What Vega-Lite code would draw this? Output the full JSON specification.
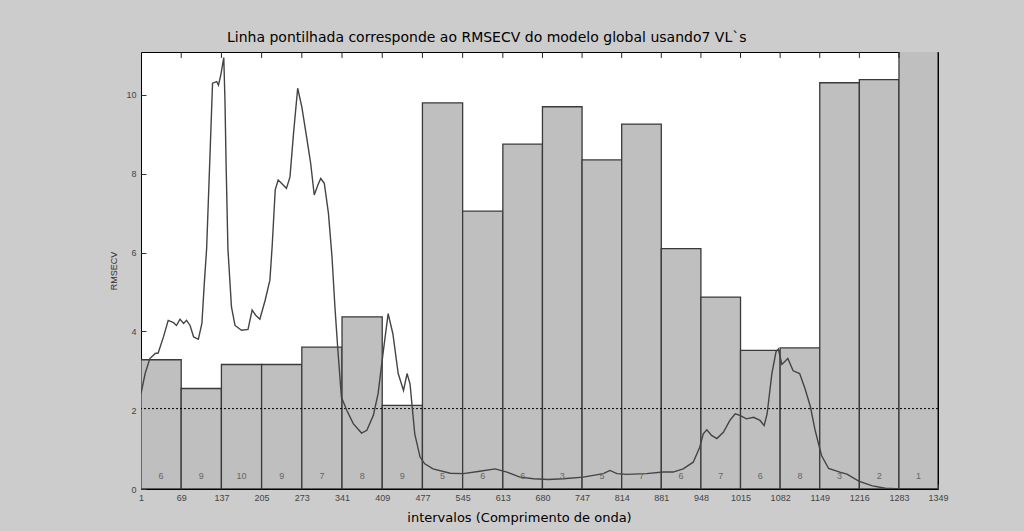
{
  "$schema": "https://vega.github.io/schema/vega-lite/v6.json",
  "width": 797,
  "height": 437,
  "autosize": "none",
  "padding": {"left": 141, "top": 52, "right": 86, "bottom": 42},
  "background": "#cccccc",
  "title": {
    "text": "Linha pontilhada  corresponde  ao RMSECV do  modelo  global usando7  VL`s",
    "anchor": "start",
    "frame": "group",
    "dx": 86,
    "offset": 7,
    "font": "DejaVu Sans",
    "fontSize": 14,
    "fontWeight": "normal",
    "color": "#000000"
  },
  "config": {
    "view": {"stroke": "#000000", "strokeWidth": 1, "fill": "#ffffff"},
    "axis": {
      "labelFont": "Liberation Sans",
      "labelFontSize": 9,
      "labelColor": "#444444",
      "tickColor": "#333333",
      "domain": false,
      "grid": false
    }
  },
  "resolve": {"axis": {"x": "independent"}},
  "datasets": {
    "bars": [
      {"start": 1, "end": 69, "rmsecv": 3.28, "n": "6"},
      {"start": 69, "end": 137, "rmsecv": 2.55, "n": "9"},
      {"start": 137, "end": 205, "rmsecv": 3.16, "n": "10"},
      {"start": 205, "end": 273, "rmsecv": 3.16, "n": "9"},
      {"start": 273, "end": 341, "rmsecv": 3.60, "n": "7"},
      {"start": 341, "end": 409, "rmsecv": 4.37, "n": "8"},
      {"start": 409, "end": 477, "rmsecv": 2.12, "n": "9"},
      {"start": 477, "end": 545, "rmsecv": 9.80, "n": "5"},
      {"start": 545, "end": 613, "rmsecv": 7.05, "n": "6"},
      {"start": 613, "end": 680, "rmsecv": 8.75, "n": "6"},
      {"start": 680, "end": 747, "rmsecv": 9.70, "n": "3"},
      {"start": 747, "end": 814, "rmsecv": 8.35, "n": "5"},
      {"start": 814, "end": 881, "rmsecv": 9.26, "n": "7"},
      {"start": 881, "end": 948, "rmsecv": 6.10, "n": "6"},
      {"start": 948, "end": 1015, "rmsecv": 4.87, "n": "7"},
      {"start": 1015, "end": 1082, "rmsecv": 3.52, "n": "6"},
      {"start": 1082, "end": 1149, "rmsecv": 3.58, "n": "8"},
      {"start": 1149, "end": 1216, "rmsecv": 10.31, "n": "3"},
      {"start": 1216, "end": 1283, "rmsecv": 10.39, "n": "2"},
      {"start": 1283, "end": 1349, "rmsecv": 11.3, "n": "1"}
    ],
    "reference": [{"global": 2.04}],
    "spectrum": [
      {"wl": 1, "v": 2.42}, {"wl": 8, "v": 2.93}, {"wl": 16, "v": 3.31}, {"wl": 25, "v": 3.44},
      {"wl": 30, "v": 3.45}, {"wl": 39, "v": 3.86}, {"wl": 47, "v": 4.28}, {"wl": 56, "v": 4.22},
      {"wl": 61, "v": 4.15}, {"wl": 67, "v": 4.31}, {"wl": 73, "v": 4.2}, {"wl": 78, "v": 4.28},
      {"wl": 84, "v": 4.15}, {"wl": 90, "v": 3.86}, {"wl": 98, "v": 3.8}, {"wl": 104, "v": 4.2},
      {"wl": 108, "v": 5.2}, {"wl": 112, "v": 6.1}, {"wl": 118, "v": 8.6}, {"wl": 122, "v": 10.3},
      {"wl": 129, "v": 10.34}, {"wl": 132, "v": 10.25}, {"wl": 136, "v": 10.51}, {"wl": 141, "v": 10.95},
      {"wl": 143, "v": 9.87}, {"wl": 145, "v": 8.2}, {"wl": 148, "v": 6.1}, {"wl": 154, "v": 4.62},
      {"wl": 160, "v": 4.15}, {"wl": 171, "v": 4.03}, {"wl": 182, "v": 4.05}, {"wl": 189, "v": 4.54},
      {"wl": 195, "v": 4.41}, {"wl": 202, "v": 4.31}, {"wl": 211, "v": 4.79}, {"wl": 219, "v": 5.3},
      {"wl": 223, "v": 6.2}, {"wl": 228, "v": 7.59}, {"wl": 233, "v": 7.84}, {"wl": 242, "v": 7.71},
      {"wl": 247, "v": 7.63}, {"wl": 253, "v": 7.92}, {"wl": 259, "v": 9.03}, {"wl": 266, "v": 10.17},
      {"wl": 273, "v": 9.7}, {"wl": 281, "v": 8.94}, {"wl": 288, "v": 8.26}, {"wl": 294, "v": 7.46},
      {"wl": 300, "v": 7.71}, {"wl": 305, "v": 7.88}, {"wl": 311, "v": 7.76}, {"wl": 318, "v": 7.0},
      {"wl": 324, "v": 5.9}, {"wl": 329, "v": 4.62}, {"wl": 334, "v": 3.52}, {"wl": 340, "v": 2.33},
      {"wl": 349, "v": 2.0}, {"wl": 360, "v": 1.66}, {"wl": 374, "v": 1.42}, {"wl": 383, "v": 1.49},
      {"wl": 394, "v": 1.87}, {"wl": 402, "v": 2.42}, {"wl": 411, "v": 3.52}, {"wl": 419, "v": 4.45},
      {"wl": 427, "v": 3.94}, {"wl": 436, "v": 2.93}, {"wl": 445, "v": 2.5}, {"wl": 451, "v": 2.93},
      {"wl": 456, "v": 2.67}, {"wl": 464, "v": 1.4}, {"wl": 473, "v": 0.81}, {"wl": 481, "v": 0.64},
      {"wl": 495, "v": 0.51}, {"wl": 524, "v": 0.4}, {"wl": 546, "v": 0.39}, {"wl": 574, "v": 0.45},
      {"wl": 600, "v": 0.51}, {"wl": 620, "v": 0.43}, {"wl": 642, "v": 0.3}, {"wl": 665, "v": 0.26},
      {"wl": 690, "v": 0.24}, {"wl": 715, "v": 0.26}, {"wl": 749, "v": 0.3}, {"wl": 783, "v": 0.39},
      {"wl": 794, "v": 0.47}, {"wl": 806, "v": 0.39}, {"wl": 822, "v": 0.37}, {"wl": 856, "v": 0.39},
      {"wl": 884, "v": 0.43}, {"wl": 901, "v": 0.43}, {"wl": 918, "v": 0.51}, {"wl": 935, "v": 0.68},
      {"wl": 946, "v": 1.06}, {"wl": 952, "v": 1.4}, {"wl": 958, "v": 1.5}, {"wl": 966, "v": 1.36},
      {"wl": 975, "v": 1.28}, {"wl": 986, "v": 1.44}, {"wl": 997, "v": 1.74}, {"wl": 1006, "v": 1.91},
      {"wl": 1014, "v": 1.87}, {"wl": 1025, "v": 1.78}, {"wl": 1037, "v": 1.82}, {"wl": 1048, "v": 1.74},
      {"wl": 1055, "v": 1.61}, {"wl": 1060, "v": 1.91}, {"wl": 1068, "v": 2.93}, {"wl": 1075, "v": 3.48},
      {"wl": 1079, "v": 3.55}, {"wl": 1085, "v": 3.16}, {"wl": 1095, "v": 3.31}, {"wl": 1104, "v": 3.0},
      {"wl": 1115, "v": 2.93}, {"wl": 1124, "v": 2.55}, {"wl": 1133, "v": 2.1}, {"wl": 1141, "v": 1.5},
      {"wl": 1152, "v": 0.85}, {"wl": 1164, "v": 0.52}, {"wl": 1183, "v": 0.43}, {"wl": 1195, "v": 0.38},
      {"wl": 1215, "v": 0.2}, {"wl": 1238, "v": 0.08}, {"wl": 1260, "v": 0.02}, {"wl": 1285, "v": 0.0},
      {"wl": 1349, "v": 0.0}
    ]
  },
  "layer": [
    {
      "data": {"name": "bars"},
      "mark": {"type": "rect", "fill": "#bfbfbf", "stroke": "#3a3a3a", "strokeWidth": 1.3, "clip": true},
      "encoding": {
        "x": {
          "field": "start", "type": "quantitative",
          "scale": {"domain": [1, 1349], "nice": false, "zero": false},
          "axis": {
            "orient": "bottom",
            "values": [1, 69, 137, 205, 273, 341, 409, 477, 545, 613, 680, 747, 814, 881, 948, 1015, 1082, 1149, 1216, 1283, 1349],
            "format": "d",
            "tickSize": -5,
            "labelPadding": 9,
            "labelFlush": false,
            "labelOverlap": false,
            "title": "intervalos (Comprimento de onda)",
            "titleFont": "DejaVu Sans",
            "titleFontSize": 13,
            "titleFontWeight": "normal",
            "titleColor": "#000000",
            "titleX": 378,
            "titleY": 32,
            "titleBaseline": "alphabetic",
            "titleAlign": "center"
          }
        },
        "x2": {"field": "end"},
        "y": {
          "field": "rmsecv", "type": "quantitative",
          "scale": {"domain": [0, 11.09], "nice": false},
          "axis": {
            "values": [0, 2, 4, 6, 8, 10],
            "tickSize": -5,
            "labelPadding": 10,
            "title": "RMSECV",
            "titleFont": "Liberation Sans",
            "titleFontSize": 9,
            "titleFontWeight": "normal",
            "titleColor": "#333333",
            "titleAngle": 270,
            "titleX": -28,
            "titleY": 218.5,
            "titleAlign": "center",
            "titleBaseline": "middle"
          }
        },
        "y2": {"datum": 0}
      }
    },
    {
      "data": {"name": "reference"},
      "mark": {"type": "rule", "color": "#000000", "strokeDash": [2, 2], "strokeWidth": 1},
      "encoding": {"y": {"field": "global", "type": "quantitative"}}
    },
    {
      "data": {"name": "spectrum"},
      "mark": {"type": "line", "color": "#444444", "strokeWidth": 1.4, "clip": true},
      "encoding": {
        "x": {"field": "wl", "type": "quantitative", "axis": null},
        "y": {"field": "v", "type": "quantitative"}
      }
    },
    {
      "data": {"name": "bars"},
      "transform": [{"filter": "datum.end < 1349"}],
      "mark": {"type": "rule", "color": "#222222", "strokeWidth": 1},
      "encoding": {
        "x": {"field": "end", "type": "quantitative", "axis": null},
        "y": {"datum": 11.09},
        "y2": {"datum": 10.94}
      }
    },
    {
      "data": {"name": "bars"},
      "transform": [{"calculate": "(datum.start + datum.end) / 2", "as": "mid"}],
      "mark": {"type": "text", "font": "Liberation Sans", "fontSize": 9, "color": "#666666", "baseline": "middle"},
      "encoding": {
        "x": {"field": "mid", "type": "quantitative", "axis": null},
        "y": {"datum": 0.32},
        "text": {"field": "n"}
      }
    }
  ]
}
